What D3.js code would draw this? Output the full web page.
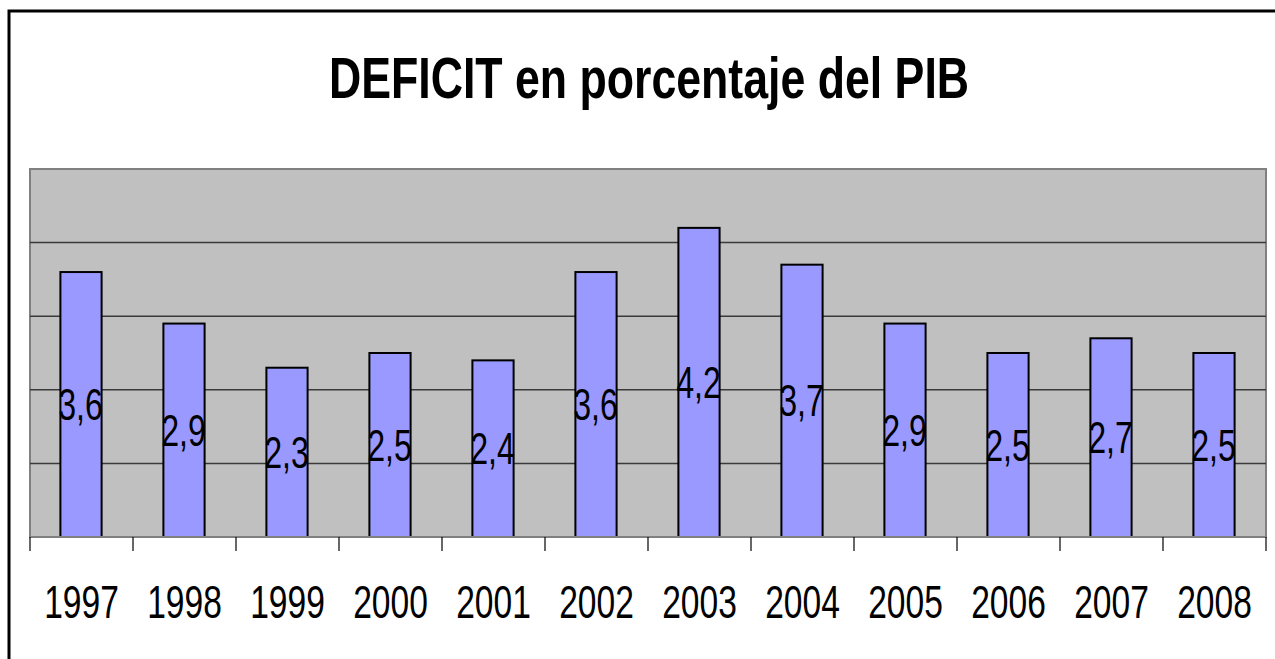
<!DOCTYPE html>
<html>
<head>
<meta charset="utf-8">
<script src="https://cdn.jsdelivr.net/npm/d3@7"></script>
<style>
html,body{margin:0;padding:0;background:#fff;}
svg{display:block;}
text{font-family:"Liberation Sans",Arial,sans-serif;fill:#000;}
</style>
</head>
<body>
<svg id="chart" width="1275" height="659"></svg>
<script>
const titleText = "DEFICIT en porcentaje del PIB";
const years = ["1997","1998","1999","2000","2001","2002","2003","2004","2005","2006","2007","2008"];
const deficit = [3.6, 2.9, 2.3, 2.5, 2.4, 3.6, 4.2, 3.7, 2.9, 2.5, 2.7, 2.5];
const yTicks = [0, 1, 2, 3, 4, 5];

const svg = d3.select("#chart");
const W = 1275, H = 659;
const plot = {left: 30, right: 1266, top: 169, bottom: 537};
const sx = 0.73; // horizontal condensation of text

// outer frame
svg.append("rect").attr("x", 9).attr("y", 11).attr("width", W + 20).attr("height", H + 20)
  .attr("fill", "#fff").attr("stroke", "#000").attr("stroke-width", 3);

const x = d3.scaleBand().domain(years).range([plot.left, plot.right]).paddingInner(0.6).paddingOuter(0.3);
const xc = d3.scaleBand().domain(years).range([plot.left, plot.right]).padding(0);
const y = d3.scaleLinear().domain([0, 5]).range([plot.bottom, plot.top]);

// plot background
svg.append("rect").attr("x", plot.left).attr("y", plot.top)
  .attr("width", plot.right - plot.left).attr("height", plot.bottom - plot.top)
  .attr("fill", "#c0c0c0").attr("stroke", "#808080").attr("stroke-width", 2);

// gridlines
svg.append("g").selectAll("line").data(yTicks.filter(t => t > 0 && t < 5)).join("line")
  .attr("x1", plot.left).attr("x2", plot.right)
  .attr("y1", d => y(d)).attr("y2", d => y(d))
  .attr("stroke", "#3a3a3a").attr("stroke-width", 1.5);

// bars
svg.append("g").selectAll("rect").data(deficit).join("rect")
  .attr("x", (d, i) => x(years[i]) - 0.5)
  .attr("y", d => y(d))
  .attr("width", x.bandwidth())
  .attr("height", d => y(0) - y(d))
  .attr("fill", "#9999ff").attr("stroke", "#000").attr("stroke-width", 2);

// x axis line and ticks
svg.append("line").attr("x1", plot.left).attr("x2", plot.right)
  .attr("y1", plot.bottom).attr("y2", plot.bottom)
  .attr("stroke", "#808080").attr("stroke-width", 2);
const tickPos = years.map(yr => xc(yr)).concat([xc(years[years.length - 1]) + xc.bandwidth()]);
svg.append("g").selectAll("line").data(tickPos).join("line")
  .attr("x1", d => d).attr("x2", d => d)
  .attr("y1", plot.bottom).attr("y2", plot.bottom + 14)
  .attr("stroke", "#000").attr("stroke-width", 1.2);

// x labels
svg.append("g").selectAll("text").data(years).join("text")
  .attr("transform", d => `translate(${xc(d) + xc.bandwidth() / 2},618) scale(${sx},1)`)
  .attr("text-anchor", "middle")
  .attr("font-size", 46)
  .text(d => d);

// data labels
svg.append("g").selectAll("text").data(deficit).join("text")
  .attr("transform", (d, i) => `translate(${x(years[i]) + x.bandwidth() / 2 - 1},${(y(d) + y(0)) / 2 + 15.5}) scale(${sx},1)`)
  .attr("text-anchor", "middle")
  .attr("font-size", 44)
  .text(d => d.toFixed(1).replace(".", ","));

// title
svg.append("text")
  .attr("transform", `translate(649,98) scale(0.77,1)`)
  .attr("text-anchor", "middle")
  .attr("font-size", 58)
  .attr("font-weight", "bold")
  .text(titleText);
</script>
</body>
</html>
